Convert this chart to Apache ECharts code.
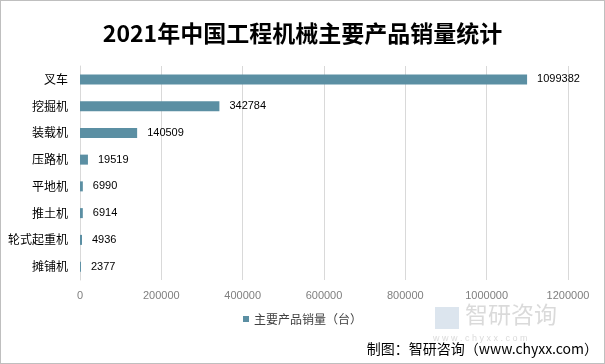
<!DOCTYPE html>
<html><head><meta charset="utf-8">
<script src="https://cdn.jsdelivr.net/npm/echarts@6/dist/echarts.min.js"></script>
<style>html,body{margin:0;padding:0;background:#fff}#c{width:605px;height:364px;box-sizing:border-box;border:1px solid #bfbfbf}</style>
</head><body><div id="c"></div>
<script>
var categories = ['叉车','挖掘机','装载机','压路机','平地机','推土机','轮式起重机','摊铺机'];
var values = [1099382, 342784, 140509, 19519, 6990, 6914, 4936, 2377];
var seriesName = '主要产品销量（台）';
var titleText = '2021年中国工程机械主要产品销量统计';
var sourceText = '制图：智研咨询（www.chyxx.com）';

var chart = echarts.init(document.getElementById('c'), null, {renderer:'canvas'});
chart.setOption({
  animation:false,
  title:{text:titleText,left:'center',top:16,textStyle:{fontFamily:'Noto Sans CJK SC',fontSize:23,fontWeight:'bold',color:'#000'}},
  grid:{left:79,right:36,top:65,bottom:83,containLabel:false},
  legend:{data:[seriesName],bottom:33,left:'center',itemWidth:6,itemHeight:6,icon:'rect',itemGap:3,
    textStyle:{fontFamily:'Noto Sans CJK SC',fontSize:12,color:'#404040'}},
  xAxis:{type:'value',min:0,max:1200000,interval:200000,
    axisLine:{show:false},axisTick:{show:false},
    axisLabel:{color:'#7f7f7f',fontFamily:'Liberation Sans',fontSize:11,margin:10,formatter:function(v){return String(v);}},
    splitLine:{lineStyle:{color:'#d9d9d9'}}},
  yAxis:{type:'category',data:categories,inverse:true,
    axisLine:{show:true,lineStyle:{color:'#d9d9d9'}},axisTick:{show:false},
    axisLabel:{color:'#000',fontFamily:'Noto Sans CJK SC',fontSize:12,margin:12}},
  series:[{name:seriesName,type:'bar',data:values,barWidth:10,
    itemStyle:{color:'#5b8fa3'},
    label:{show:true,position:'right',distance:10,color:'#000',fontFamily:'Liberation Sans',fontSize:11}}],
  graphic:[
    {type:'text',right:6,bottom:7,style:{text:sourceText,font:'14px "Noto Sans CJK SC"',fill:'#000'}},
    {type:'text',left:464,top:302,style:{text:'智研咨询',font:'23px "Noto Sans CJK SC"',fill:'rgba(150,150,150,0.35)'}},
    {type:'text',left:432,top:333,style:{text:'w w w . c h y x x . c o m',font:'9px "Liberation Sans"',fill:'rgba(150,150,150,0.35)'}},
    {type:'rect',shape:{x:434,y:306,width:24,height:22},style:{fill:'rgba(140,170,200,0.3)'}}
  ]
});
</script></body></html>
